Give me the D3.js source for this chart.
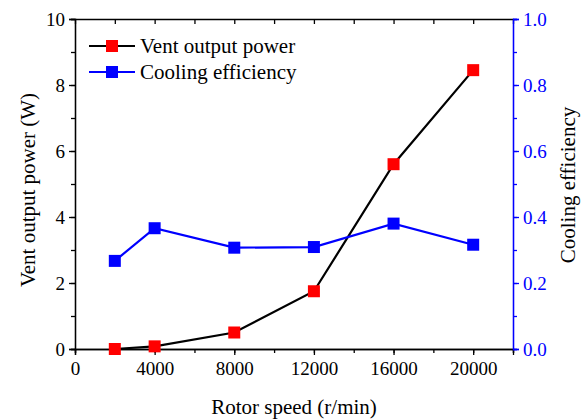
<!DOCTYPE html>
<html>
<head>
<meta charset="utf-8">
<script src="https://cdn.jsdelivr.net/npm/d3@7"></script>
<style>
  body { margin: 0; background: #fff; }
</style>
</head>
<body>
<div id="chart"></div>
<script>
// data
var speeds = [2000, 4000, 8000, 12000, 16000, 20000];
var ventPower = [0.0, 0.08, 0.5, 1.75, 5.6, 8.45];
var coolingEff = [0.267, 0.366, 0.307, 0.309, 0.380, 0.316];
var xTicks = [0, 4000, 8000, 12000, 16000, 20000];
var yLeftTicks = [0, 2, 4, 6, 8, 10];
var yRightTicks = [0, 0.2, 0.4, 0.6, 0.8, 1.0];
var legendNames = ["Vent output power", "Cooling efficiency"];

var width = 586, height = 420;
var margin = {top: 19, right: 73, bottom: 71, left: 75};
var innerW = width - margin.left - margin.right,
    innerH = height - margin.top - margin.bottom;
var fontFamily = "'Liberation Serif', 'Times New Roman', serif";

var svg = d3.select("#chart").append("svg")
    .attr("width", width)
    .attr("height", height)
    .attr("font-family", fontFamily);

var g = svg.append("g")
    .attr("transform", "translate(" + margin.left + "," + margin.top + ")");

var x = d3.scaleLinear().domain([0, 22000]).range([0, innerW]);
var yL = d3.scaleLinear().domain([0, 10]).range([innerH, 0]);
var yR = d3.scaleLinear().domain([0, 1]).range([innerH, 0]);

var tickFont = 19, titleFont = 21;

function styleAxis(sel, color) {
    sel.attr("font-family", fontFamily).attr("font-size", tickFont);
    sel.selectAll("path").attr("stroke", color).attr("stroke-width", 1.3);
    sel.selectAll("line").attr("stroke", color).attr("stroke-width", 1.3);
    sel.selectAll("text").attr("fill", color);
}

// minor ticks
var xMinor = d3.range(0, 22001, 2000);
var yLMinor = d3.range(0, 10.01, 1);
var yRMinor = d3.range(0, 1.001, 0.1);

// bottom axis
g.append("g")
    .attr("transform", "translate(0," + innerH + ")")
    .call(d3.axisBottom(x).tickValues(xMinor).tickSize(4).tickFormat(""))
    .call(styleAxis, "#000");
g.append("g")
    .attr("transform", "translate(0," + innerH + ")")
    .call(d3.axisBottom(x).tickValues(xTicks).tickSize(6).tickPadding(7).tickFormat(d3.format("d")))
    .call(styleAxis, "#000");

// top axis (ticks inward)
g.append("g")
    .call(d3.axisTop(x).tickValues(xMinor).tickSize(-5).tickSizeOuter(0).tickFormat(""))
    .call(styleAxis, "#000");

// left axis
g.append("g")
    .call(d3.axisLeft(yL).tickValues(yLMinor).tickSize(4).tickFormat(""))
    .call(styleAxis, "#000");
g.append("g")
    .call(d3.axisLeft(yL).tickValues(yLeftTicks).tickSize(6).tickPadding(4).tickFormat(d3.format("d")))
    .call(styleAxis, "#000");

// right axis (blue)
g.append("g")
    .attr("transform", "translate(" + innerW + ",0)")
    .call(d3.axisRight(yR).tickValues(yRMinor).tickSize(4).tickFormat(""))
    .call(styleAxis, "#0000ff");
g.append("g")
    .attr("transform", "translate(" + innerW + ",0)")
    .call(d3.axisRight(yR).tickValues(yRightTicks).tickSize(6).tickPadding(4).tickFormat(d3.format(".1f")))
    .call(styleAxis, "#0000ff");

// series
var series = [
    {name: legendNames[0], values: ventPower, y: yL, line: "#000", fill: "#ff0000"},
    {name: legendNames[1], values: coolingEff, y: yR, line: "#0000ff", fill: "#0000ff"}
];

var ms = 12;
series.forEach(function (s) {
    var line = d3.line()
        .x(function (d, i) { return x(speeds[i]); })
        .y(function (d) { return s.y(d); });
    g.append("path")
        .datum(s.values)
        .attr("fill", "none")
        .attr("stroke", s.line)
        .attr("stroke-width", 2.2)
        .attr("d", line);
    g.selectAll(null)
        .data(s.values)
        .enter().append("rect")
        .attr("x", function (d, i) { return x(speeds[i]) - ms / 2; })
        .attr("y", function (d) { return s.y(d) - ms / 2; })
        .attr("width", ms)
        .attr("height", ms)
        .attr("fill", s.fill);
});

// legend
var legend = svg.append("g").attr("transform", "translate(89,46)");
series.forEach(function (s, i) {
    var row = legend.append("g").attr("transform", "translate(0," + (i * 26) + ")");
    row.append("line")
        .attr("x1", 0).attr("x2", 46)
        .attr("stroke", s.line).attr("stroke-width", 2.2);
    row.append("rect")
        .attr("x", 23 - 6).attr("y", -6)
        .attr("width", 12).attr("height", 12)
        .attr("fill", s.fill);
    row.append("text")
        .attr("x", 51).attr("dy", "0.35em")
        .attr("font-size", titleFont)
        .text(s.name);
});

// axis titles
svg.append("text")
    .attr("x", margin.left + innerW / 2)
    .attr("y", 414)
    .attr("text-anchor", "middle")
    .attr("font-size", titleFont)
    .text("Rotor speed (r/min)");

svg.append("text")
    .attr("transform", "translate(35,190) rotate(-90)")
    .attr("text-anchor", "middle")
    .attr("font-size", titleFont)
    .text("Vent output power (W)");

svg.append("text")
    .attr("transform", "translate(575,185) rotate(-90)")
    .attr("text-anchor", "middle")
    .attr("font-size", titleFont)
    .text("Cooling efficiency");
</script>
</body>
</html>
